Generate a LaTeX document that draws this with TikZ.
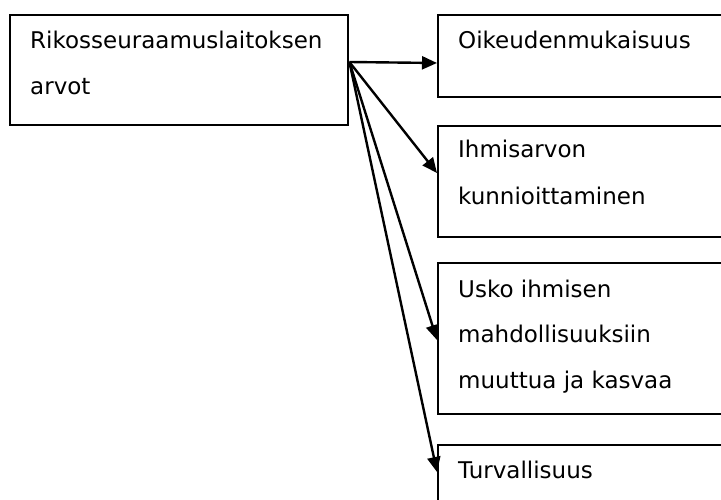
\documentclass[tikz,border=0pt]{standalone}
\usepackage{fontspec}
\setmainfont{DejaVu Sans}
\usetikzlibrary{arrows.meta,calc}
\tikzset{
  box/.style={draw=black, line width=2.4pt, rectangle, inner sep=0pt, anchor=north west},
  lbl/.style={anchor=base west, inner sep=0pt, font=\fontsize{23}{28}\selectfont},
  conn/.style={line width=2.4pt, -{Triangle[length=15pt,width=13pt]}, shorten >=0pt}
}
\begin{document}
\begin{tikzpicture}[x=1pt,y=-1pt]
\useasboundingbox (0,0) rectangle (721,500);
\clip (0,0) rectangle (721,500);
\fill[white] (0,0) rectangle (721,500);
% boxes
\node[box, minimum width=338pt, minimum height=110pt] (main) at (9,14) {};
\node[box, minimum width=300pt, minimum height=82pt] (b1) at (437,14) {};
\node[box, minimum width=300pt, minimum height=111pt] (b2) at (437,125) {};
\node[box, minimum width=300pt, minimum height=151pt] (b3) at (437,262) {};
\node[box, minimum width=300pt, minimum height=90pt] (b4) at (437,444) {};
% texts
\node[lbl] (t1) at (30,49) {Rikosseuraamuslaitoksen};
\node[lbl] (t2) at (30,95) {arvot};
\node[lbl] (t3) at (458,49) {Oikeudenmukaisuus};
\node[lbl] (t4) at (458,158) {Ihmisarvon};
\node[lbl] (t5) at (458,205) {kunnioittaminen};
\node[lbl] (t6) at (458,297) {Usko ihmisen};
\node[lbl] (t7) at (458,342) {mahdollisuuksiin};
\node[lbl] (t8) at (458,388) {muuttua ja kasvaa};
\node[lbl] (t9) at (458,478) {Turvallisuus};
% connectors
\coordinate (src) at ($(main.north east)+(0,48)$);
\coordinate (e1) at ($(b1.north west)+(0,49)$);
\coordinate (e2) at ($(b2.north west)+(0,48)$);
\coordinate (e3) at ($(b3.north west)+(0,78)$);
\coordinate (e4) at ($(b4.north west)+(0,28)$);
\draw[conn] (src) -- (e1);
\draw[conn] (src) -- (e2);
\draw[conn] (src) -- (e3);
\draw[conn] (src) -- (e4);
\end{tikzpicture}
\end{document}
